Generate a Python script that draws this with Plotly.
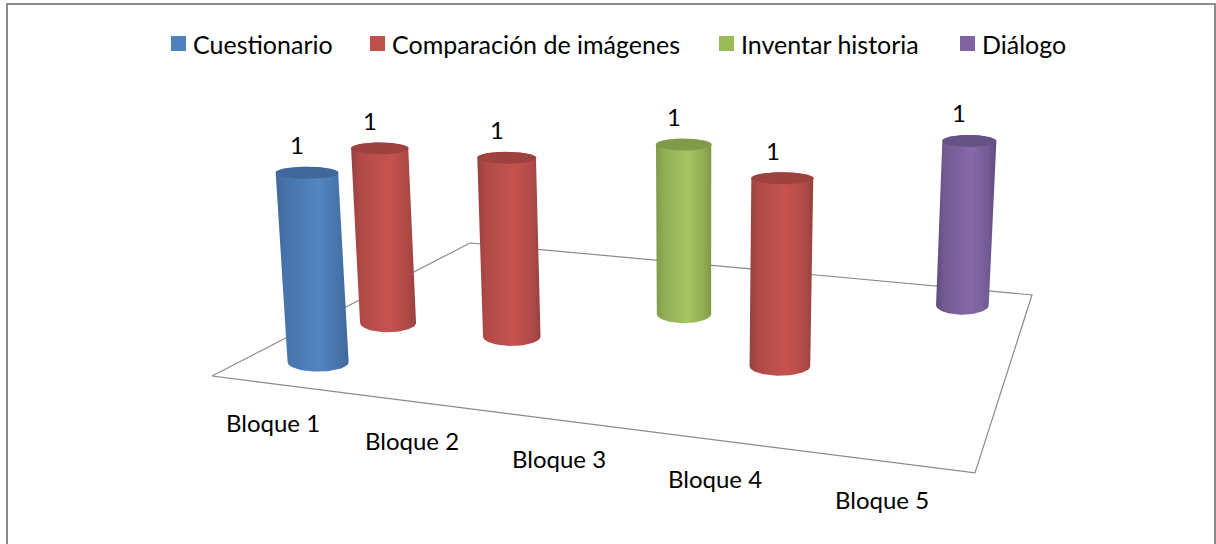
import numpy as np
import plotly.graph_objects as go

# ---- data ----
categories = ["Bloque 1", "Bloque 2", "Bloque 3", "Bloque 4", "Bloque 5"]
series_names = ["Cuestionario", "Comparación de imágenes", "Inventar historia", "Diálogo"]
cuestionario = [1, None, None, None, None]
comparacion = [1, 1, None, 1, None]
inventar = [None, None, 1, None, None]
dialogo = [None, None, None, None, 1]
series_values = [cuestionario, comparacion, inventar, dialogo]

# ---- styles ----
FONT = "Lato, Carlito, Calibri, sans-serif"
main_colors = ["#4f81bd", "#c0504d", "#9bbb59", "#8064a2"]
edge_dark = ["#3f6898", "#964140", "#7f9a49", "#5f4b7b"]
edge_mid = ["#4674ab", "#b04a47", "#90ad53", "#735b94"]
light = ["#5285c2", "#c7534f", "#a5c561", "#8769aa"]
cap_colors = ["#40689a", "#9e4240", "#7f9a49", "#675285"]
legend_x = [171, 370, 719, 960]  # left edge of each legend swatch, in chart pixels

# Projection of the 3D chart box (camera of the original 3D chart)
CAM = np.array([[622.5, 433.0, -20.5, 212.0],
                [28.8, -42.5, -200.5, 376.0],
                [-0.1441, 0.3723, -0.02976, 1.0]])
RX, RY = 31.5, 9.5  # on-screen half axes of a cylinder section at unit depth


def project(u, v, z):
    u, v, z = np.broadcast_arrays(np.asarray(u, float), np.asarray(v, float), np.asarray(z, float))
    p = CAM @ np.vstack([u.ravel(), v.ravel(), z.ravel(), np.ones(u.size)])
    return p[0] / p[2], p[1] / p[2]


def circle(u0, v0, theta):
    """Cylinder section: level on screen, with the floor's shear removed."""
    eps = 1e-4
    x0, y0 = project(u0, v0, 0)
    xu, yu = project(u0 + eps, v0, 0)
    xv, yv = project(u0, v0 + eps, 0)
    jac = np.array([[xu[0] - x0[0], xv[0] - x0[0]], [yu[0] - y0[0], yv[0] - y0[0]]]) / eps
    depth = CAM[2, 0] * u0 + CAM[2, 1] * v0 + CAM[2, 3]
    off = np.linalg.solve(jac, np.vstack([RX / depth * np.cos(theta), -RY * np.sin(theta)]))
    return u0 + off[0], v0 + off[1]


nc, ns = len(categories), len(series_names)
fig = go.Figure()

# floor
fx, fy = project([0, 1, 1, 0, 0], [0, 0, 1, 1, 0], [0, 0, 0, 0, 0])
fig.add_trace(go.Scatter(x=fx, y=fy, mode="lines", line=dict(color="#8a8a8a", width=1.2),
                         showlegend=False, hoverinfo="skip"))

# cylinders, back to front
bars = [(s, c, series_values[s][c]) for s in range(ns) for c in range(nc)
        if series_values[s][c] is not None]
bars.sort(key=lambda b: -b[0])
annotations = []
for s, c, val in bars:
    u0, v0 = (c + 0.5) / nc, (s + 0.5) / ns
    bu, bv = circle(u0, v0, np.linspace(np.pi, np.pi * 2, 41))
    tu, tv = circle(u0, v0, np.linspace(0, np.pi, 41))
    xb, yb = project(bu, bv, 0)
    xt, yt = project(tu, tv, val)
    scale = [[0, edge_dark[s]], [0.14, edge_mid[s]], [0.58, light[s]],
             [0.86, edge_mid[s]], [1, edge_dark[s]]]
    fig.add_trace(go.Scatter(
        x=np.concatenate([xb, xt, xb[:1]]),
        y=np.concatenate([yb, yt, yb[:1]]),
        mode="lines", line=dict(width=0), fill="toself",
        fillgradient=dict(type="horizontal", colorscale=scale),
        showlegend=False, hoverinfo="skip"))
    cu, cv = circle(u0, v0, np.linspace(0, 2 * np.pi, 61))
    xc, yc = project(cu, cv, val)
    fig.add_trace(go.Scatter(x=xc, y=yc, mode="lines", line=dict(width=0), fill="toself",
                             fillcolor=cap_colors[s], showlegend=False, hoverinfo="skip"))
    xl, yl = project(u0, v0, val)
    annotations.append(dict(x=float(xl[0]), y=float(yl[0]), xref="x", yref="y", text=str(val),
                            showarrow=False, xshift=-10, yshift=28,
                            font=dict(family=FONT, size=24, color="#000000")))

# category labels along the front edge
for c, name in enumerate(categories):
    xl, yl = project((c + 0.5) / nc, 0, 0)
    annotations.append(dict(x=float(xl[0]), y=float(yl[0]), xref="x", yref="y", text=name,
                            showarrow=False, xshift=-5, yshift=-38,
                            font=dict(family=FONT, size=24, color="#000000")))

# legend: swatch + text
shapes = [dict(type="rect", xref="x", yref="y", x0=7, x1=1215, y0=4, y1=560,
               line=dict(color="#8c8c8c", width=2), layer="below")]
for s, name in enumerate(series_names):
    shapes.append(dict(type="rect", xref="x", yref="y", x0=legend_x[s], x1=legend_x[s] + 15,
                       y0=36, y1=51, fillcolor=main_colors[s], line=dict(width=0)))
    annotations.append(dict(x=legend_x[s] + 20, y=44, xref="x", yref="y", text=name,
                            xanchor="left", yanchor="middle", showarrow=False,
                            font=dict(family=FONT, size=25, color="#000000")))

fig.update_layout(
    width=1216, height=544, margin=dict(l=0, r=0, t=0, b=0),
    paper_bgcolor="#ffffff", plot_bgcolor="#ffffff", showlegend=False,
    xaxis=dict(range=[0, 1216], visible=False, fixedrange=True),
    yaxis=dict(range=[544, 0], visible=False, fixedrange=True),
    annotations=annotations,
    shapes=shapes,
)
fig.write_html("out.html", config=dict(displayModeBar=False),
               post_script="document.body.style.margin='0';document.documentElement.style.overflow='hidden';")
